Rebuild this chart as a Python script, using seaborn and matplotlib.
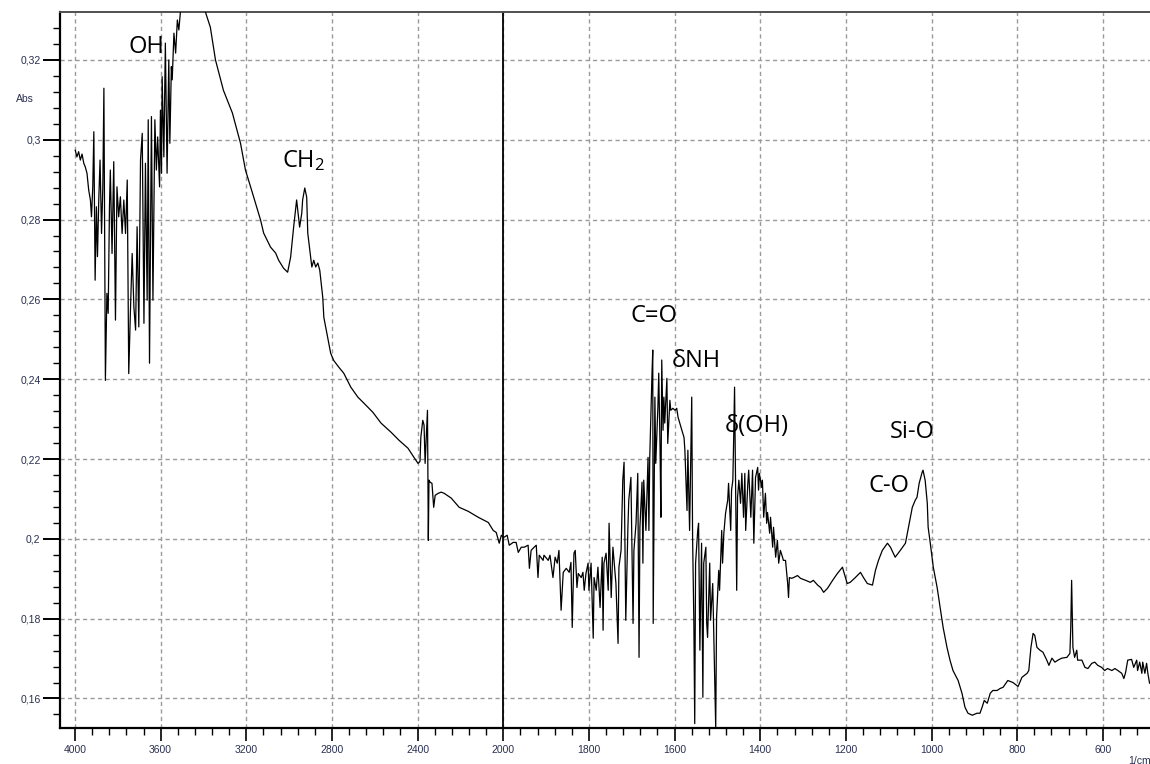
import numpy as np
import pandas as pd
import matplotlib
matplotlib.use("Agg")
import matplotlib.pyplot as plt
from matplotlib.ticker import FixedLocator, FuncFormatter
import seaborn as sns

# FTIR absorbance spectrum (wavenumber in 1/cm, absorbance)
wavenumber = [
    3999, 3991, 3983, 3975, 3967, 3959, 3952, 3944, 3936, 3928,
    3923, 3917, 3912, 3906, 3900, 3895, 3889, 3883, 3876, 3870,
    3865, 3858, 3851, 3845, 3839, 3835, 3827, 3819, 3811, 3804,
    3796, 3788, 3780, 3772, 3764, 3756, 3749, 3741, 3733, 3725,
    3717, 3710, 3702, 3694, 3686, 3678, 3671, 3663, 3658, 3652,
    3643, 3636, 3627, 3620, 3614, 3605, 3601, 3596, 3593, 3585,
    3578, 3570, 3562, 3557, 3550, 3546, 3538, 3530, 3522, 3515,
    3507, 3470, 3430, 3400, 3391, 3368, 3344, 3307, 3265, 3227,
    3204, 3171, 3133, 3119, 3087, 3063, 3049, 3026, 3007, 2993,
    2979, 2965, 2960, 2951, 2941, 2937, 2927, 2918, 2913, 2894,
    2885, 2876, 2866, 2857, 2843, 2838, 2820, 2806, 2792, 2768,
    2745, 2712, 2679, 2651, 2609, 2571, 2524, 2487, 2445, 2417,
    2398, 2389, 2385, 2376, 2370, 2365, 2354, 2350, 2347, 2342,
    2333, 2325, 2318, 2304, 2290, 2276, 2243, 2206, 2164, 2117,
    2070, 2056, 2047, 2033, 2019, 2009, 2000,
    1998, 1991, 1986, 1977, 1970, 1965, 1958, 1951, 1942, 1939,
    1935, 1928, 1923, 1919, 1916, 1907, 1905, 1895, 1891, 1884,
    1879, 1874, 1870, 1865, 1860, 1853, 1846, 1842, 1839, 1835,
    1832, 1828, 1825, 1818, 1814, 1811, 1807, 1802, 1800, 1795,
    1790, 1788, 1783, 1779, 1774, 1769, 1767, 1765, 1760, 1755,
    1753, 1748, 1744, 1741, 1737, 1732, 1730, 1725, 1721, 1718,
    1714, 1709, 1707, 1702, 1697, 1695, 1690, 1686, 1683, 1681,
    1676, 1674, 1672, 1667, 1662, 1660, 1658, 1653, 1651, 1650,
    1646, 1644, 1639, 1637, 1634, 1632, 1630, 1627, 1625, 1623,
    1618, 1616, 1611, 1609, 1604, 1599, 1595, 1592, 1588, 1583,
    1578, 1576, 1571, 1569, 1565, 1560, 1558, 1555, 1553, 1551,
    1546, 1544, 1541, 1537, 1534, 1532, 1527, 1525, 1523, 1518,
    1516, 1511, 1509, 1504, 1502, 1497, 1495, 1490, 1488, 1485,
    1481, 1476, 1474, 1469, 1467, 1464, 1462, 1460, 1455, 1453,
    1450, 1446, 1443, 1439, 1436, 1434, 1429, 1427, 1422, 1418,
    1415, 1411, 1406, 1404, 1402, 1397, 1395, 1392, 1388, 1385,
    1383, 1378, 1376, 1371, 1369, 1364, 1360, 1357, 1353, 1348,
    1346, 1341, 1336, 1334, 1332, 1327, 1322, 1313, 1306, 1294,
    1283, 1276, 1266, 1259, 1252, 1243, 1231, 1220, 1208, 1206,
    1197, 1190, 1178, 1166, 1159, 1150, 1138, 1131, 1124, 1115,
    1103, 1096, 1085, 1073, 1061, 1054, 1045, 1038, 1034, 1029,
    1022, 1020, 1015, 1010, 1008, 1003, 996, 987, 980, 973,
    964, 957, 950, 938, 929, 922, 915, 905, 894, 887,
    882, 877, 870, 863, 857, 847, 840, 833, 822, 810,
    798, 789, 777, 773, 768, 763, 759, 754, 747, 740,
    731, 726, 719, 712, 705, 696, 684, 677, 675, 673,
    670, 666, 661, 659, 649, 642, 635, 626, 619, 612,
    603, 596, 589, 579, 572, 565, 556, 551, 547, 542,
    533, 528, 521, 519, 514, 509, 507, 502, 498, 495,
    491,
]

absorbance = [
    .2974, .2957, .2970, .2949, .2964, .2941, .2932, .2916, .2874, .2849,
    .2807, .2882, .3020, .2648, .2832, .2707, .2849, .2949, .2765, .2882,
    .3129, .2397, .2615, .2565, .2832, .2924, .2715, .2945, .2548, .2882,
    .2807, .2857, .2765, .2849, .2765, .2899, .2414, .2573, .2715, .2581,
    .2523, .2782, .2531, .2949, .3016, .2540, .2941, .2598, .3050, .2440,
    .3058, .2598, .3050, .2924, .3007, .2882, .3074, .2916, .3158, .2957,
    .3242, .2916, .3200, .2991, .3183, .3150, .3267, .3217, .3300, .3275,
    .3325, .3370, .3390, .3350, .3320, .3282, .3200, .3124, .3067, .2991,
    .2924, .2866, .2798, .2766, .2731, .2716, .2698, .2678, .2668, .2706,
    .2781, .2849, .2824, .2781, .2816, .2849, .2879, .2856, .2766, .2681,
    .2698, .2681, .2691, .2673, .2605, .2555, .2505, .2465, .2447, .2430,
    .2415, .2380, .2355, .2340, .2317, .2290, .2267, .2247, .2227, .2204,
    .2189, .2194, .2254, .2297, .2285, .2189, .2322, .1996, .2147, .2142,
    .2139, .2079, .2109, .2114, .2117, .2114, .2102, .2079, .2069, .2054,
    .2041, .2029, .2021, .2016, .1989, .2009, .2004,
    .2004, .2009, .1984, .1991, .1991, .1966, .1979, .1979, .1984, .1926,
    .1971, .1979, .1984, .1903, .1959, .1946, .1959, .1946, .1959, .1903,
    .1954, .1939, .1971, .1821, .1916, .1926, .1916, .1941, .1778, .1964,
    .1971, .1878, .1913, .1903, .1916, .1871, .1913, .1939, .1871, .1939,
    .1751, .1903, .1871, .1929, .1828, .1954, .1771, .1939, .1964, .1871,
    .2039, .1853, .1979, .1939, .1888, .1738, .1929, .1971, .2147, .2192,
    .1796, .2029, .2097, .2154, .1788, .1971, .2039, .2164, .1703, .2029,
    .2142, .1939, .2147, .2021, .2204, .2021, .2204, .2405, .2473, .1788,
    .2355, .2189, .2330, .2415, .2230, .2054, .2448, .2272, .2355, .2290,
    .2402, .2239, .2347, .2322, .2327, .2322, .2327, .2305, .2290, .2272,
    .2254, .2222, .2071, .2222, .2021, .2355, .2004, .1788, .1537, .1939,
    .2021, .2039, .1721, .1989, .1603, .1939, .1979, .1788, .1753, .1939,
    .1796, .1888, .1788, .1527, .1803, .1921, .1871, .2021, .1939, .2014,
    .2064, .2097, .2139, .2021, .2122, .2147, .2254, .2380, .1871, .2104,
    .2147, .2089, .2164, .2054, .2164, .2021, .2139, .2172, .2054, .2172,
    .1989, .2154, .2179, .2122, .2164, .2129, .2147, .2054, .2114, .2039,
    .2066, .2014, .2054, .1979, .2029, .1954, .1996, .1939, .1971, .1954,
    .1946, .1946, .1888, .1853, .1903, .1901, .1903, .1908, .1901, .1896,
    .1891, .1896, .1884, .1878, .1866, .1876, .1896, .1913, .1929, .1921,
    .1888, .1891, .1903, .1916, .1903, .1888, .1884, .1921, .1946, .1971,
    .1989, .1979, .1954, .1971, .1989, .2029, .2079, .2097, .2104, .2139,
    .2167, .2172, .2147, .2089, .2029, .1989, .1929, .1878, .1828, .1778,
    .1728, .1696, .1670, .1645, .1613, .1578, .1563, .1558, .1563, .1563,
    .1578, .1595, .1588, .1613, .1620, .1620, .1625, .1628, .1645, .1640,
    .1630, .1653, .1663, .1670, .1728, .1763, .1758, .1728, .1721, .1716,
    .1696, .1683, .1701, .1691, .1696, .1701, .1703, .1713, .1778, .1896,
    .1728, .1703, .1721, .1696, .1696, .1678, .1675, .1688, .1691, .1683,
    .1678, .1670, .1675, .1670, .1675, .1670, .1663, .1650, .1665, .1696,
    .1698, .1678, .1696, .1670, .1691, .1663, .1691, .1663, .1688, .1663,
    .1638,
]

# Band assignments written on the spectrum
band_labels = ["OH", r"$\mathregular{CH_2}$", "C=O", "δNH", "δ(OH)", "Si-O", "C-O"]
band_label_wn = [3665, 2934, 1648, 1550, 1408, 1045, 1099]
band_label_abs = [0.3217, 0.2931, 0.2543, 0.2431, 0.2267, 0.2252, 0.2118]

x_major = [4000, 3600, 3200, 2800, 2400, 2000, 1800, 1600, 1400, 1200, 1000, 800, 600]
y_major = [0.16, 0.18, 0.20, 0.22, 0.24, 0.26, 0.28, 0.30, 0.32]

SPLIT = 2000.0  # scale is compressed 2:1 above this wavenumber


def forward(x):
    x = np.asarray(x, dtype=float)
    return np.where(x > SPLIT, SPLIT + (x - SPLIT) / 2.0, x)


def inverse(u):
    u = np.asarray(u, dtype=float)
    return np.where(u > SPLIT, SPLIT + (u - SPLIT) * 2.0, u)


df = pd.DataFrame({"wavenumber": wavenumber, "absorbance": absorbance})

sns.set_style("white")
plt.rcParams["font.family"] = ["Liberation Sans", "DejaVu Sans"]

fig = plt.figure(figsize=(11.5, 7.64), dpi=100)
ax = fig.add_axes([60 / 1150, 36 / 764, 1090 / 1150, 716 / 764])

ax.set_xscale("function", functions=(forward, inverse))

sns.lineplot(data=df, x="wavenumber", y="absorbance", sort=False, estimator=None,
             color="black", linewidth=0.9, ax=ax, zorder=3)

ax.set_xlim(4070, 490)
ax.set_ylim(0.1526, 0.3320)

# ticks
ax.xaxis.set_major_locator(FixedLocator(x_major))
minor_x = [v for v in np.arange(3920, 2000, -80) if v % 400 != 0] + \
          [v for v in np.arange(1960, 480, -40) if v % 200 != 0]
ax.xaxis.set_minor_locator(FixedLocator(minor_x))
ax.yaxis.set_major_locator(FixedLocator(y_major))
ax.yaxis.set_minor_locator(FixedLocator(np.arange(0.156, 0.332, 0.004)))

ax.xaxis.set_major_formatter(FuncFormatter(lambda v, p: f"{int(round(v))}"))
ax.yaxis.set_major_formatter(
    FuncFormatter(lambda v, p: f"{v:.2f}".rstrip("0").replace(".", ",")))

label_color = "#2a3050"
ax.tick_params(axis="y", which="major", direction="out", length=12, width=1.4,
               color="black", labelsize=7.5, labelcolor=label_color, pad=2)
ax.tick_params(axis="y", which="minor", direction="out", length=5, width=1.0,
               color="black")
ax.tick_params(axis="x", which="major", direction="out", length=9, width=1.2,
               color="black", labelsize=7.5, labelcolor=label_color, pad=3)
ax.tick_params(axis="x", which="minor", direction="out", length=5, width=1.0,
               color="black")
ax.tick_params(left=True, bottom=True, which="both")

# dashed grid, solid marker at the scale change
ax.grid(True, which="major", color="#9a9a9a", linestyle=(0, (3, 2.4)), linewidth=1.0)
ax.axvline(SPLIT, color="black", linewidth=1.3, zorder=2)

for side in ["left", "bottom"]:
    ax.spines[side].set_color("black")
    ax.spines[side].set_linewidth(1.6)
ax.spines["top"].set_color("#505050")
ax.spines["top"].set_linewidth(1.4)
ax.spines["right"].set_visible(False)

ax.set_xlabel("")
ax.set_ylabel("")

for lab, xw, ya in zip(band_labels, band_label_wn, band_label_abs):
    ax.text(xw, ya, lab, ha="center", va="baseline", fontsize=17,
            family=["Open Sans", "DejaVu Sans"], color="black", zorder=4)

fig.text(25 / 1150, 1 - 99 / 764, "Abs", ha="center", va="center",
         fontsize=7.5, color=label_color)
fig.text(1128 / 1150, 1 - 761 / 764, "1/cm", ha="left", va="center",
         fontsize=7.5, color=label_color)

fig.savefig("out.png", dpi=100)
